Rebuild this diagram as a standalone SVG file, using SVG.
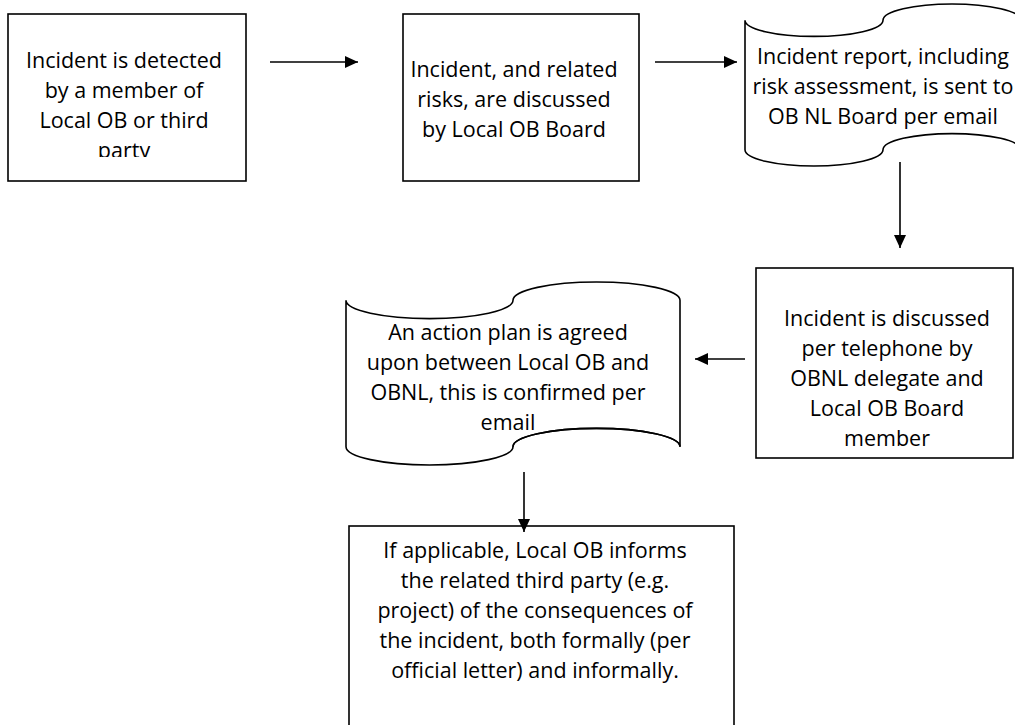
<svg xmlns="http://www.w3.org/2000/svg" width="1015" height="725" viewBox="0 0 1015 725">
  <style>
    .shape { fill: #ffffff; stroke: #000000; stroke-width: 1.6; }
    .label { font-family: "Open Sans", "Liberation Sans", sans-serif; font-size: 21.5px; fill: #000000; text-anchor: middle; }
    .conn { stroke: #000000; stroke-width: 1.6; fill: none; marker-end: url(#arrow); }
  </style>
  <defs>
    <marker id="arrow" markerUnits="userSpaceOnUse" markerWidth="14" markerHeight="12" refX="13" refY="6" orient="auto">
      <path d="M0,0 L13,6 L0,12 Z" fill="#000000"/>
    </marker>
    <clipPath id="clip1">
      <rect x="8" y="14" width="238" height="143"/>
    </clipPath>
  </defs>

  <g id="node1">
    <rect class="shape" x="8" y="14" width="238" height="167"/>
    <g clip-path="url(#clip1)">
      <text class="label" x="124" y="68">Incident is detected</text>
      <text class="label" x="124" y="98">by a member of</text>
      <text class="label" x="124" y="128">Local OB or third</text>
      <text class="label" x="124" y="158">party</text>
    </g>
  </g>

  <g id="node2">
    <rect class="shape" x="403" y="14" width="236" height="167"/>
    <text class="label" x="514" y="77">Incident, and related</text>
    <text class="label" x="514" y="107">risks, are discussed</text>
    <text class="label" x="514" y="137">by Local OB Board</text>
  </g>

  <g id="node3">
    <path class="shape" d="M745,20.2 A69,16.2 0 0 0 883,20.2 A69,16.2 0 0 1 1021,20.2 L1021,149.8 A69,16.2 0 0 0 883,149.8 A69,16.2 0 0 1 745,149.8 Z"/>
    <text class="label" x="883" y="64">Incident report, including</text>
    <text class="label" x="883" y="94">risk assessment, is sent to</text>
    <text class="label" x="883" y="124">OB NL Board per email</text>
  </g>

  <g id="node4">
    <rect class="shape" x="756" y="268" width="257" height="190"/>
    <text class="label" x="887" y="326">Incident is discussed</text>
    <text class="label" x="887" y="356">per telephone by</text>
    <text class="label" x="887" y="386">OBNL delegate and</text>
    <text class="label" x="887" y="416">Local OB Board</text>
    <text class="label" x="887" y="446">member</text>
  </g>

  <g id="node5">
    <path class="shape" d="M346,300.3 A83.5,18.3 0 0 0 513,300.3 A83.5,18.3 0 0 1 680,300.3 L680,446.7 A83.5,18.3 0 0 0 513,446.7 A83.5,18.3 0 0 1 346,446.7 Z"/>
    <text class="label" x="508" y="340">An action plan is agreed</text>
    <text class="label" x="508" y="370">upon between Local OB and</text>
    <text class="label" x="508" y="400">OBNL, this is confirmed per</text>
    <text class="label" x="508" y="430">email</text>
    <path d="M513,446.7 A83.5,18.3 0 0 1 680,446.7" fill="none" stroke="#000000" stroke-width="1.6"/>
  </g>

  <g id="node6">
    <rect class="shape" x="349" y="526" width="385" height="215"/>
    <text class="label" x="535" y="558">If applicable, Local OB informs</text>
    <text class="label" x="535" y="588">the related third party (e.g.</text>
    <text class="label" x="535" y="618">project) of the consequences of</text>
    <text class="label" x="535" y="648">the incident, both formally (per</text>
    <text class="label" x="535" y="678">official letter) and informally.</text>
  </g>

  <g id="connectors">
    <line class="conn" x1="270" y1="62" x2="358" y2="62"/>
    <line class="conn" x1="655" y1="62" x2="737" y2="62"/>
    <line class="conn" x1="900" y1="162" x2="900" y2="248"/>
    <line class="conn" x1="745" y1="359" x2="695" y2="359"/>
    <line class="conn" x1="524" y1="472" x2="524" y2="532"/>
  </g>
</svg>
